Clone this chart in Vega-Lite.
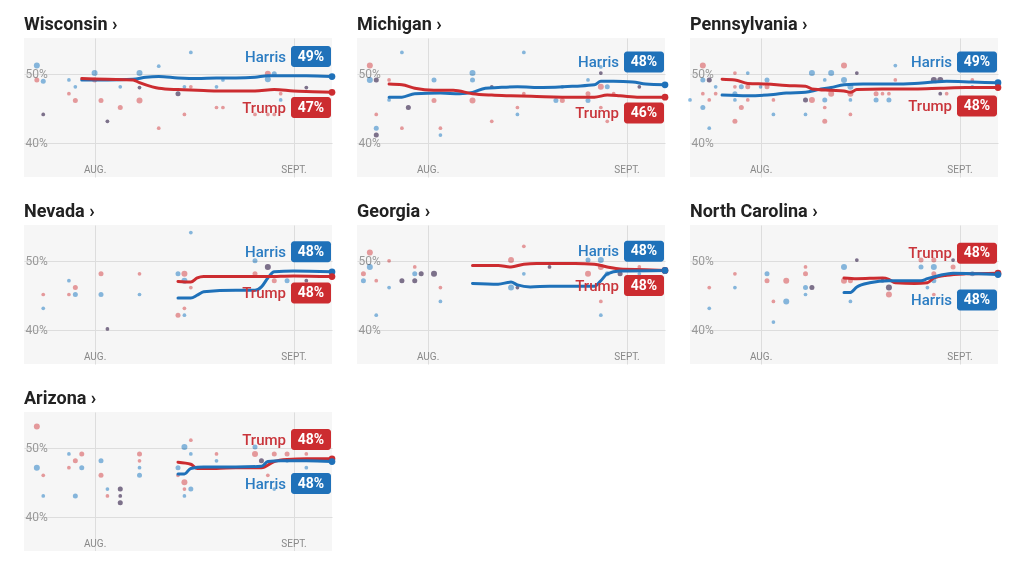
{
"$schema": "https://vega.github.io/schema/vega-lite/v6.json",
"background": "white",
"padding": {"left": 24, "top": 16, "right": 5, "bottom": 0},
"bounds": "flush",
"data": {"values": [
{"s":"Wisconsin","k":"d","c":"Harris","d":"2024-07-23","v":51.2,"n":3},
{"s":"Wisconsin","k":"d","c":"Harris","d":"2024-07-24","v":48.9,"n":2},
{"s":"Wisconsin","k":"d","c":"Harris","d":"2024-07-28","v":49.1,"n":1},
{"s":"Wisconsin","k":"d","c":"Harris","d":"2024-07-29","v":48.1,"n":1},
{"s":"Wisconsin","k":"d","c":"Harris","d":"2024-08-01","v":50.1,"n":3},
{"s":"Wisconsin","k":"d","c":"Harris","d":"2024-08-05","v":48.1,"n":1},
{"s":"Wisconsin","k":"d","c":"Harris","d":"2024-08-08","v":50.1,"n":3},
{"s":"Wisconsin","k":"d","c":"Harris","d":"2024-08-11","v":51.1,"n":1},
{"s":"Wisconsin","k":"d","c":"Harris","d":"2024-08-15","v":48.1,"n":1},
{"s":"Wisconsin","k":"d","c":"Harris","d":"2024-08-16","v":53.1,"n":1},
{"s":"Wisconsin","k":"d","c":"Harris","d":"2024-08-20","v":48.1,"n":1},
{"s":"Wisconsin","k":"d","c":"Harris","d":"2024-08-21","v":49.1,"n":1},
{"s":"Wisconsin","k":"d","c":"Harris","d":"2024-08-28","v":49.2,"n":3},
{"s":"Wisconsin","k":"d","c":"Harris","d":"2024-08-29","v":50.0,"n":2},
{"s":"Wisconsin","k":"d","c":"Harris","d":"2024-08-30","v":46.2,"n":1},
{"s":"Wisconsin","k":"d","c":"Harris","d":"2024-07-24","v":44.1,"n":1},
{"s":"Wisconsin","k":"d","c":"Harris","d":"2024-08-03","v":43.1,"n":1},
{"s":"Wisconsin","k":"d","c":"Harris","d":"2024-08-08","v":48.0,"n":1},
{"s":"Wisconsin","k":"d","c":"Harris","d":"2024-08-14","v":47.1,"n":2},
{"s":"Wisconsin","k":"d","c":"Harris","d":"2024-09-03","v":48.0,"n":1},
{"s":"Wisconsin","k":"d","c":"Trump","d":"2024-07-24","v":44.1,"n":1},
{"s":"Wisconsin","k":"d","c":"Trump","d":"2024-08-03","v":43.1,"n":1},
{"s":"Wisconsin","k":"d","c":"Trump","d":"2024-08-08","v":48.0,"n":1},
{"s":"Wisconsin","k":"d","c":"Trump","d":"2024-08-14","v":47.1,"n":2},
{"s":"Wisconsin","k":"d","c":"Trump","d":"2024-09-03","v":48.0,"n":1},
{"s":"Wisconsin","k":"d","c":"Trump","d":"2024-07-23","v":49.1,"n":2},
{"s":"Wisconsin","k":"d","c":"Trump","d":"2024-07-28","v":47.1,"n":1},
{"s":"Wisconsin","k":"d","c":"Trump","d":"2024-07-29","v":46.1,"n":2},
{"s":"Wisconsin","k":"d","c":"Trump","d":"2024-08-01","v":49.1,"n":2},
{"s":"Wisconsin","k":"d","c":"Trump","d":"2024-08-02","v":46.1,"n":2},
{"s":"Wisconsin","k":"d","c":"Trump","d":"2024-08-05","v":45.1,"n":2},
{"s":"Wisconsin","k":"d","c":"Trump","d":"2024-08-08","v":46.1,"n":3},
{"s":"Wisconsin","k":"d","c":"Trump","d":"2024-08-11","v":42.1,"n":1},
{"s":"Wisconsin","k":"d","c":"Trump","d":"2024-08-15","v":44.1,"n":1},
{"s":"Wisconsin","k":"d","c":"Trump","d":"2024-08-16","v":48.1,"n":1},
{"s":"Wisconsin","k":"d","c":"Trump","d":"2024-08-20","v":45.1,"n":1},
{"s":"Wisconsin","k":"d","c":"Trump","d":"2024-08-21","v":45.1,"n":1},
{"s":"Wisconsin","k":"d","c":"Trump","d":"2024-08-26","v":44.1,"n":1},
{"s":"Wisconsin","k":"d","c":"Trump","d":"2024-08-28","v":50.0,"n":3},
{"s":"Wisconsin","k":"d","c":"Trump","d":"2024-08-28","v":44.1,"n":1},
{"s":"Wisconsin","k":"d","c":"Trump","d":"2024-08-29","v":44.1,"n":1},
{"s":"Wisconsin","k":"d","c":"Trump","d":"2024-08-30","v":47.1,"n":1},
{"s":"Wisconsin","k":"l","c":"Harris","d":"2024-07-30","v":49.1},
{"s":"Wisconsin","k":"l","c":"Harris","d":"2024-08-03","v":49.1},
{"s":"Wisconsin","k":"l","c":"Harris","d":"2024-08-07","v":49.2},
{"s":"Wisconsin","k":"l","c":"Harris","d":"2024-08-09","v":49.5},
{"s":"Wisconsin","k":"l","c":"Harris","d":"2024-08-11","v":49.6},
{"s":"Wisconsin","k":"l","c":"Harris","d":"2024-08-14","v":49.4},
{"s":"Wisconsin","k":"l","c":"Harris","d":"2024-08-17","v":49.3},
{"s":"Wisconsin","k":"l","c":"Harris","d":"2024-08-20","v":49.4},
{"s":"Wisconsin","k":"l","c":"Harris","d":"2024-08-23","v":49.4},
{"s":"Wisconsin","k":"l","c":"Harris","d":"2024-08-26","v":49.5},
{"s":"Wisconsin","k":"l","c":"Harris","d":"2024-08-28","v":49.7},
{"s":"Wisconsin","k":"l","c":"Harris","d":"2024-08-31","v":49.7},
{"s":"Wisconsin","k":"l","c":"Harris","d":"2024-09-03","v":49.7},
{"s":"Wisconsin","k":"l","c":"Harris","d":"2024-09-07","v":49.6},
{"s":"Wisconsin","k":"l","c":"Trump","d":"2024-07-30","v":49.3},
{"s":"Wisconsin","k":"l","c":"Trump","d":"2024-08-03","v":49.2},
{"s":"Wisconsin","k":"l","c":"Trump","d":"2024-08-07","v":49.1},
{"s":"Wisconsin","k":"l","c":"Trump","d":"2024-08-08","v":48.7},
{"s":"Wisconsin","k":"l","c":"Trump","d":"2024-08-10","v":48.1},
{"s":"Wisconsin","k":"l","c":"Trump","d":"2024-08-11","v":47.9},
{"s":"Wisconsin","k":"l","c":"Trump","d":"2024-08-14","v":47.7},
{"s":"Wisconsin","k":"l","c":"Trump","d":"2024-08-17","v":47.6},
{"s":"Wisconsin","k":"l","c":"Trump","d":"2024-08-20","v":47.5},
{"s":"Wisconsin","k":"l","c":"Trump","d":"2024-08-23","v":47.5},
{"s":"Wisconsin","k":"l","c":"Trump","d":"2024-08-26","v":47.5},
{"s":"Wisconsin","k":"l","c":"Trump","d":"2024-08-29","v":47.7},
{"s":"Wisconsin","k":"l","c":"Trump","d":"2024-09-01","v":47.5},
{"s":"Wisconsin","k":"l","c":"Trump","d":"2024-09-04","v":47.4},
{"s":"Wisconsin","k":"l","c":"Trump","d":"2024-09-07","v":47.3},
{"s":"Wisconsin","k":"b","c":"Harris","p":"49%","d":"2024-09-07","v":52.5},
{"s":"Wisconsin","k":"b","c":"Trump","p":"47%","d":"2024-09-07","v":45.1},

{"s":"Michigan","k":"d","c":"Harris","d":"2024-07-23","v":49.1,"n":3},
{"s":"Michigan","k":"d","c":"Harris","d":"2024-07-26","v":46.2,"n":1},
{"s":"Michigan","k":"d","c":"Harris","d":"2024-07-24","v":42.1,"n":2},
{"s":"Michigan","k":"d","c":"Harris","d":"2024-07-28","v":53.1,"n":1},
{"s":"Michigan","k":"d","c":"Harris","d":"2024-08-02","v":49.1,"n":2},
{"s":"Michigan","k":"d","c":"Harris","d":"2024-08-03","v":41.1,"n":1},
{"s":"Michigan","k":"d","c":"Harris","d":"2024-08-08","v":50.1,"n":3},
{"s":"Michigan","k":"d","c":"Harris","d":"2024-08-08","v":49.1,"n":2},
{"s":"Michigan","k":"d","c":"Harris","d":"2024-08-15","v":44.1,"n":1},
{"s":"Michigan","k":"d","c":"Harris","d":"2024-08-16","v":53.1,"n":1},
{"s":"Michigan","k":"d","c":"Harris","d":"2024-08-21","v":46.1,"n":2},
{"s":"Michigan","k":"d","c":"Harris","d":"2024-08-22","v":48.1,"n":1},
{"s":"Michigan","k":"d","c":"Harris","d":"2024-08-26","v":49.1,"n":1},
{"s":"Michigan","k":"d","c":"Harris","d":"2024-08-26","v":46.1,"n":2},
{"s":"Michigan","k":"d","c":"Harris","d":"2024-08-28","v":51.0,"n":1},
{"s":"Michigan","k":"d","c":"Harris","d":"2024-08-29","v":48.1,"n":2},
{"s":"Michigan","k":"d","c":"Harris","d":"2024-07-24","v":49.1,"n":2},
{"s":"Michigan","k":"d","c":"Harris","d":"2024-07-29","v":45.1,"n":2},
{"s":"Michigan","k":"d","c":"Harris","d":"2024-08-11","v":48.1,"n":1},
{"s":"Michigan","k":"d","c":"Harris","d":"2024-08-28","v":50.1,"n":1},
{"s":"Michigan","k":"d","c":"Harris","d":"2024-09-03","v":48.1,"n":1},
{"s":"Michigan","k":"d","c":"Harris","d":"2024-07-24","v":41.1,"n":2},
{"s":"Michigan","k":"d","c":"Trump","d":"2024-07-24","v":49.1,"n":2},
{"s":"Michigan","k":"d","c":"Trump","d":"2024-07-29","v":45.1,"n":2},
{"s":"Michigan","k":"d","c":"Trump","d":"2024-08-11","v":48.1,"n":1},
{"s":"Michigan","k":"d","c":"Trump","d":"2024-08-28","v":50.1,"n":1},
{"s":"Michigan","k":"d","c":"Trump","d":"2024-09-03","v":48.1,"n":1},
{"s":"Michigan","k":"d","c":"Trump","d":"2024-07-24","v":41.1,"n":2},
{"s":"Michigan","k":"d","c":"Trump","d":"2024-07-23","v":51.2,"n":3},
{"s":"Michigan","k":"d","c":"Trump","d":"2024-07-26","v":49.1,"n":1},
{"s":"Michigan","k":"d","c":"Trump","d":"2024-07-24","v":44.1,"n":1},
{"s":"Michigan","k":"d","c":"Trump","d":"2024-07-28","v":42.1,"n":1},
{"s":"Michigan","k":"d","c":"Trump","d":"2024-08-02","v":46.1,"n":2},
{"s":"Michigan","k":"d","c":"Trump","d":"2024-08-03","v":42.1,"n":1},
{"s":"Michigan","k":"d","c":"Trump","d":"2024-08-08","v":46.1,"n":3},
{"s":"Michigan","k":"d","c":"Trump","d":"2024-08-11","v":43.1,"n":1},
{"s":"Michigan","k":"d","c":"Trump","d":"2024-08-15","v":45.1,"n":1},
{"s":"Michigan","k":"d","c":"Trump","d":"2024-08-16","v":47.1,"n":1},
{"s":"Michigan","k":"d","c":"Trump","d":"2024-08-22","v":46.1,"n":2},
{"s":"Michigan","k":"d","c":"Trump","d":"2024-08-26","v":47.1,"n":2},
{"s":"Michigan","k":"d","c":"Trump","d":"2024-08-28","v":48.1,"n":3},
{"s":"Michigan","k":"d","c":"Trump","d":"2024-08-28","v":45.1,"n":1},
{"s":"Michigan","k":"d","c":"Trump","d":"2024-08-29","v":43.1,"n":1},
{"s":"Michigan","k":"d","c":"Trump","d":"2024-08-30","v":47.1,"n":1},
{"s":"Michigan","k":"l","c":"Harris","d":"2024-07-26","v":46.6},
{"s":"Michigan","k":"l","c":"Harris","d":"2024-07-28","v":46.6},
{"s":"Michigan","k":"l","c":"Harris","d":"2024-07-30","v":47.1},
{"s":"Michigan","k":"l","c":"Harris","d":"2024-08-03","v":47.2},
{"s":"Michigan","k":"l","c":"Harris","d":"2024-08-06","v":47.1},
{"s":"Michigan","k":"l","c":"Harris","d":"2024-08-08","v":47.3},
{"s":"Michigan","k":"l","c":"Harris","d":"2024-08-10","v":47.9},
{"s":"Michigan","k":"l","c":"Harris","d":"2024-08-12","v":48.0},
{"s":"Michigan","k":"l","c":"Harris","d":"2024-08-15","v":48.1},
{"s":"Michigan","k":"l","c":"Harris","d":"2024-08-19","v":48.0},
{"s":"Michigan","k":"l","c":"Harris","d":"2024-08-24","v":48.2},
{"s":"Michigan","k":"l","c":"Harris","d":"2024-08-27","v":48.4},
{"s":"Michigan","k":"l","c":"Harris","d":"2024-08-28","v":48.9},
{"s":"Michigan","k":"l","c":"Harris","d":"2024-08-30","v":48.9},
{"s":"Michigan","k":"l","c":"Harris","d":"2024-09-02","v":48.8},
{"s":"Michigan","k":"l","c":"Harris","d":"2024-09-04","v":48.5},
{"s":"Michigan","k":"l","c":"Harris","d":"2024-09-07","v":48.4},
{"s":"Michigan","k":"l","c":"Trump","d":"2024-07-26","v":48.5},
{"s":"Michigan","k":"l","c":"Trump","d":"2024-07-28","v":48.4},
{"s":"Michigan","k":"l","c":"Trump","d":"2024-07-30","v":47.9},
{"s":"Michigan","k":"l","c":"Trump","d":"2024-08-02","v":47.6},
{"s":"Michigan","k":"l","c":"Trump","d":"2024-08-05","v":47.6},
{"s":"Michigan","k":"l","c":"Trump","d":"2024-08-08","v":47.1},
{"s":"Michigan","k":"l","c":"Trump","d":"2024-08-11","v":46.9},
{"s":"Michigan","k":"l","c":"Trump","d":"2024-08-14","v":46.8},
{"s":"Michigan","k":"l","c":"Trump","d":"2024-08-18","v":46.7},
{"s":"Michigan","k":"l","c":"Trump","d":"2024-08-24","v":46.6},
{"s":"Michigan","k":"l","c":"Trump","d":"2024-08-27","v":46.6},
{"s":"Michigan","k":"l","c":"Trump","d":"2024-08-29","v":46.9},
{"s":"Michigan","k":"l","c":"Trump","d":"2024-08-31","v":46.8},
{"s":"Michigan","k":"l","c":"Trump","d":"2024-09-03","v":46.6},
{"s":"Michigan","k":"l","c":"Trump","d":"2024-09-07","v":46.6},
{"s":"Michigan","k":"b","c":"Harris","p":"48%","d":"2024-09-07","v":51.7},
{"s":"Michigan","k":"b","c":"Trump","p":"46%","d":"2024-09-07","v":44.3},

{"s":"Pennsylvania","k":"d","c":"Harris","d":"2024-07-21","v":46.2,"n":1},
{"s":"Pennsylvania","k":"d","c":"Harris","d":"2024-07-23","v":49.1,"n":2},
{"s":"Pennsylvania","k":"d","c":"Harris","d":"2024-07-23","v":45.1,"n":2},
{"s":"Pennsylvania","k":"d","c":"Harris","d":"2024-07-24","v":42.1,"n":1},
{"s":"Pennsylvania","k":"d","c":"Harris","d":"2024-07-25","v":48.1,"n":1},
{"s":"Pennsylvania","k":"d","c":"Harris","d":"2024-07-28","v":47.1,"n":2},
{"s":"Pennsylvania","k":"d","c":"Harris","d":"2024-07-28","v":46.2,"n":1},
{"s":"Pennsylvania","k":"d","c":"Harris","d":"2024-07-29","v":48.1,"n":2},
{"s":"Pennsylvania","k":"d","c":"Harris","d":"2024-07-30","v":50.1,"n":1},
{"s":"Pennsylvania","k":"d","c":"Harris","d":"2024-08-01","v":48.1,"n":1},
{"s":"Pennsylvania","k":"d","c":"Harris","d":"2024-08-02","v":49.1,"n":2},
{"s":"Pennsylvania","k":"d","c":"Harris","d":"2024-08-03","v":44.1,"n":1},
{"s":"Pennsylvania","k":"d","c":"Harris","d":"2024-08-08","v":44.1,"n":1},
{"s":"Pennsylvania","k":"d","c":"Harris","d":"2024-08-09","v":50.1,"n":3},
{"s":"Pennsylvania","k":"d","c":"Harris","d":"2024-08-11","v":49.1,"n":1},
{"s":"Pennsylvania","k":"d","c":"Harris","d":"2024-08-11","v":46.2,"n":2},
{"s":"Pennsylvania","k":"d","c":"Harris","d":"2024-08-12","v":50.1,"n":3},
{"s":"Pennsylvania","k":"d","c":"Harris","d":"2024-08-14","v":49.1,"n":3},
{"s":"Pennsylvania","k":"d","c":"Harris","d":"2024-08-15","v":48.1,"n":3},
{"s":"Pennsylvania","k":"d","c":"Harris","d":"2024-08-15","v":46.2,"n":1},
{"s":"Pennsylvania","k":"d","c":"Harris","d":"2024-08-19","v":46.2,"n":2},
{"s":"Pennsylvania","k":"d","c":"Harris","d":"2024-08-21","v":46.2,"n":2},
{"s":"Pennsylvania","k":"d","c":"Harris","d":"2024-08-22","v":51.2,"n":1},
{"s":"Pennsylvania","k":"d","c":"Harris","d":"2024-09-03","v":48.1,"n":1},
{"s":"Pennsylvania","k":"d","c":"Harris","d":"2024-07-24","v":49.1,"n":2},
{"s":"Pennsylvania","k":"d","c":"Harris","d":"2024-08-08","v":46.2,"n":2},
{"s":"Pennsylvania","k":"d","c":"Harris","d":"2024-08-16","v":50.1,"n":1},
{"s":"Pennsylvania","k":"d","c":"Harris","d":"2024-08-28","v":49.1,"n":3},
{"s":"Pennsylvania","k":"d","c":"Harris","d":"2024-08-29","v":49.1,"n":3},
{"s":"Pennsylvania","k":"d","c":"Harris","d":"2024-08-29","v":47.1,"n":1},
{"s":"Pennsylvania","k":"d","c":"Trump","d":"2024-07-24","v":49.1,"n":2},
{"s":"Pennsylvania","k":"d","c":"Trump","d":"2024-08-08","v":46.2,"n":2},
{"s":"Pennsylvania","k":"d","c":"Trump","d":"2024-08-16","v":50.1,"n":1},
{"s":"Pennsylvania","k":"d","c":"Trump","d":"2024-08-28","v":49.1,"n":3},
{"s":"Pennsylvania","k":"d","c":"Trump","d":"2024-08-29","v":49.1,"n":3},
{"s":"Pennsylvania","k":"d","c":"Trump","d":"2024-08-29","v":47.1,"n":1},
{"s":"Pennsylvania","k":"d","c":"Trump","d":"2024-07-23","v":51.2,"n":3},
{"s":"Pennsylvania","k":"d","c":"Trump","d":"2024-07-23","v":47.1,"n":1},
{"s":"Pennsylvania","k":"d","c":"Trump","d":"2024-07-24","v":46.2,"n":1},
{"s":"Pennsylvania","k":"d","c":"Trump","d":"2024-07-25","v":47.1,"n":1},
{"s":"Pennsylvania","k":"d","c":"Trump","d":"2024-07-28","v":50.1,"n":1},
{"s":"Pennsylvania","k":"d","c":"Trump","d":"2024-07-28","v":48.1,"n":1},
{"s":"Pennsylvania","k":"d","c":"Trump","d":"2024-07-28","v":43.1,"n":2},
{"s":"Pennsylvania","k":"d","c":"Trump","d":"2024-07-29","v":45.1,"n":2},
{"s":"Pennsylvania","k":"d","c":"Trump","d":"2024-07-30","v":48.1,"n":2},
{"s":"Pennsylvania","k":"d","c":"Trump","d":"2024-07-30","v":46.2,"n":1},
{"s":"Pennsylvania","k":"d","c":"Trump","d":"2024-08-02","v":48.1,"n":2},
{"s":"Pennsylvania","k":"d","c":"Trump","d":"2024-08-03","v":46.2,"n":1},
{"s":"Pennsylvania","k":"d","c":"Trump","d":"2024-08-09","v":46.2,"n":3},
{"s":"Pennsylvania","k":"d","c":"Trump","d":"2024-08-11","v":45.1,"n":1},
{"s":"Pennsylvania","k":"d","c":"Trump","d":"2024-08-11","v":43.1,"n":2},
{"s":"Pennsylvania","k":"d","c":"Trump","d":"2024-08-12","v":47.1,"n":3},
{"s":"Pennsylvania","k":"d","c":"Trump","d":"2024-08-14","v":51.2,"n":3},
{"s":"Pennsylvania","k":"d","c":"Trump","d":"2024-08-15","v":47.1,"n":3},
{"s":"Pennsylvania","k":"d","c":"Trump","d":"2024-08-15","v":44.1,"n":1},
{"s":"Pennsylvania","k":"d","c":"Trump","d":"2024-08-19","v":47.1,"n":2},
{"s":"Pennsylvania","k":"d","c":"Trump","d":"2024-08-20","v":47.1,"n":1},
{"s":"Pennsylvania","k":"d","c":"Trump","d":"2024-08-21","v":47.1,"n":1},
{"s":"Pennsylvania","k":"d","c":"Trump","d":"2024-08-22","v":49.1,"n":1},
{"s":"Pennsylvania","k":"d","c":"Trump","d":"2024-08-30","v":47.1,"n":1},
{"s":"Pennsylvania","k":"d","c":"Trump","d":"2024-09-03","v":49.1,"n":1},
{"s":"Pennsylvania","k":"l","c":"Harris","d":"2024-07-26","v":46.9},
{"s":"Pennsylvania","k":"l","c":"Harris","d":"2024-07-30","v":46.8},
{"s":"Pennsylvania","k":"l","c":"Harris","d":"2024-08-03","v":47.0},
{"s":"Pennsylvania","k":"l","c":"Harris","d":"2024-08-05","v":47.2},
{"s":"Pennsylvania","k":"l","c":"Harris","d":"2024-08-08","v":47.3},
{"s":"Pennsylvania","k":"l","c":"Harris","d":"2024-08-10","v":47.7},
{"s":"Pennsylvania","k":"l","c":"Harris","d":"2024-08-12","v":48.0},
{"s":"Pennsylvania","k":"l","c":"Harris","d":"2024-08-14","v":48.4},
{"s":"Pennsylvania","k":"l","c":"Harris","d":"2024-08-17","v":48.5},
{"s":"Pennsylvania","k":"l","c":"Harris","d":"2024-08-22","v":48.5},
{"s":"Pennsylvania","k":"l","c":"Harris","d":"2024-08-25","v":48.6},
{"s":"Pennsylvania","k":"l","c":"Harris","d":"2024-08-28","v":48.8},
{"s":"Pennsylvania","k":"l","c":"Harris","d":"2024-08-30","v":48.9},
{"s":"Pennsylvania","k":"l","c":"Harris","d":"2024-09-03","v":48.8},
{"s":"Pennsylvania","k":"l","c":"Harris","d":"2024-09-07","v":48.7},
{"s":"Pennsylvania","k":"l","c":"Trump","d":"2024-07-26","v":49.2},
{"s":"Pennsylvania","k":"l","c":"Trump","d":"2024-07-28","v":49.1},
{"s":"Pennsylvania","k":"l","c":"Trump","d":"2024-07-30","v":48.6},
{"s":"Pennsylvania","k":"l","c":"Trump","d":"2024-08-02","v":48.5},
{"s":"Pennsylvania","k":"l","c":"Trump","d":"2024-08-05","v":48.3},
{"s":"Pennsylvania","k":"l","c":"Trump","d":"2024-08-08","v":48.2},
{"s":"Pennsylvania","k":"l","c":"Trump","d":"2024-08-09","v":47.8},
{"s":"Pennsylvania","k":"l","c":"Trump","d":"2024-08-12","v":47.6},
{"s":"Pennsylvania","k":"l","c":"Trump","d":"2024-08-14","v":47.5},
{"s":"Pennsylvania","k":"l","c":"Trump","d":"2024-08-15","v":47.3},
{"s":"Pennsylvania","k":"l","c":"Trump","d":"2024-08-16","v":47.7},
{"s":"Pennsylvania","k":"l","c":"Trump","d":"2024-08-20","v":47.8},
{"s":"Pennsylvania","k":"l","c":"Trump","d":"2024-08-25","v":47.8},
{"s":"Pennsylvania","k":"l","c":"Trump","d":"2024-08-29","v":47.9},
{"s":"Pennsylvania","k":"l","c":"Trump","d":"2024-09-02","v":48.0},
{"s":"Pennsylvania","k":"l","c":"Trump","d":"2024-09-07","v":48.0},
{"s":"Pennsylvania","k":"b","c":"Harris","p":"49%","d":"2024-09-07","v":51.7},
{"s":"Pennsylvania","k":"b","c":"Trump","p":"48%","d":"2024-09-07","v":45.3},

{"s":"Nevada","k":"d","c":"Harris","d":"2024-07-24","v":43.1,"n":1},
{"s":"Nevada","k":"d","c":"Harris","d":"2024-07-28","v":47.1,"n":1},
{"s":"Nevada","k":"d","c":"Harris","d":"2024-07-29","v":45.1,"n":2},
{"s":"Nevada","k":"d","c":"Harris","d":"2024-08-02","v":45.1,"n":2},
{"s":"Nevada","k":"d","c":"Harris","d":"2024-08-08","v":45.1,"n":1},
{"s":"Nevada","k":"d","c":"Harris","d":"2024-08-14","v":48.1,"n":2},
{"s":"Nevada","k":"d","c":"Harris","d":"2024-08-15","v":47.1,"n":3},
{"s":"Nevada","k":"d","c":"Harris","d":"2024-08-15","v":42.1,"n":1},
{"s":"Nevada","k":"d","c":"Harris","d":"2024-08-16","v":54.1,"n":1},
{"s":"Nevada","k":"d","c":"Harris","d":"2024-08-26","v":50.0,"n":2},
{"s":"Nevada","k":"d","c":"Harris","d":"2024-08-31","v":47.1,"n":2},
{"s":"Nevada","k":"d","c":"Harris","d":"2024-08-03","v":40.1,"n":1},
{"s":"Nevada","k":"d","c":"Harris","d":"2024-08-28","v":49.1,"n":3},
{"s":"Nevada","k":"d","c":"Harris","d":"2024-09-03","v":47.1,"n":1},
{"s":"Nevada","k":"d","c":"Trump","d":"2024-08-03","v":40.1,"n":1},
{"s":"Nevada","k":"d","c":"Trump","d":"2024-08-28","v":49.1,"n":3},
{"s":"Nevada","k":"d","c":"Trump","d":"2024-09-03","v":47.1,"n":1},
{"s":"Nevada","k":"d","c":"Trump","d":"2024-07-24","v":45.1,"n":1},
{"s":"Nevada","k":"d","c":"Trump","d":"2024-07-28","v":45.1,"n":1},
{"s":"Nevada","k":"d","c":"Trump","d":"2024-07-29","v":46.1,"n":2},
{"s":"Nevada","k":"d","c":"Trump","d":"2024-08-02","v":48.1,"n":2},
{"s":"Nevada","k":"d","c":"Trump","d":"2024-08-08","v":48.1,"n":1},
{"s":"Nevada","k":"d","c":"Trump","d":"2024-08-14","v":42.1,"n":2},
{"s":"Nevada","k":"d","c":"Trump","d":"2024-08-15","v":48.1,"n":3},
{"s":"Nevada","k":"d","c":"Trump","d":"2024-08-15","v":43.1,"n":1},
{"s":"Nevada","k":"d","c":"Trump","d":"2024-08-16","v":46.1,"n":1},
{"s":"Nevada","k":"d","c":"Trump","d":"2024-08-26","v":48.1,"n":2},
{"s":"Nevada","k":"d","c":"Trump","d":"2024-08-29","v":47.1,"n":2},
{"s":"Nevada","k":"l","c":"Harris","d":"2024-08-14","v":44.6},
{"s":"Nevada","k":"l","c":"Harris","d":"2024-08-16","v":44.6},
{"s":"Nevada","k":"l","c":"Harris","d":"2024-08-17","v":45.0},
{"s":"Nevada","k":"l","c":"Harris","d":"2024-08-18","v":45.5},
{"s":"Nevada","k":"l","c":"Harris","d":"2024-08-23","v":45.7},
{"s":"Nevada","k":"l","c":"Harris","d":"2024-08-26","v":45.7},
{"s":"Nevada","k":"l","c":"Harris","d":"2024-08-27","v":46.2},
{"s":"Nevada","k":"l","c":"Harris","d":"2024-08-28","v":47.5},
{"s":"Nevada","k":"l","c":"Harris","d":"2024-08-29","v":48.4},
{"s":"Nevada","k":"l","c":"Harris","d":"2024-09-01","v":48.5},
{"s":"Nevada","k":"l","c":"Harris","d":"2024-09-07","v":48.4},
{"s":"Nevada","k":"l","c":"Trump","d":"2024-08-14","v":47.0},
{"s":"Nevada","k":"l","c":"Trump","d":"2024-08-16","v":46.9},
{"s":"Nevada","k":"l","c":"Trump","d":"2024-08-17","v":47.5},
{"s":"Nevada","k":"l","c":"Trump","d":"2024-08-18","v":47.7},
{"s":"Nevada","k":"l","c":"Trump","d":"2024-08-23","v":47.7},
{"s":"Nevada","k":"l","c":"Trump","d":"2024-08-28","v":47.7},
{"s":"Nevada","k":"l","c":"Trump","d":"2024-09-01","v":47.8},
{"s":"Nevada","k":"l","c":"Trump","d":"2024-09-07","v":47.7},
{"s":"Nevada","k":"b","c":"Harris","p":"48%","d":"2024-09-07","v":51.3},
{"s":"Nevada","k":"b","c":"Trump","p":"48%","d":"2024-09-07","v":45.3},

{"s":"Georgia","k":"d","c":"Harris","d":"2024-07-22","v":47.1,"n":2},
{"s":"Georgia","k":"d","c":"Harris","d":"2024-07-23","v":49.1,"n":3},
{"s":"Georgia","k":"d","c":"Harris","d":"2024-07-24","v":42.1,"n":1},
{"s":"Georgia","k":"d","c":"Harris","d":"2024-07-26","v":46.1,"n":1},
{"s":"Georgia","k":"d","c":"Harris","d":"2024-07-30","v":48.1,"n":2},
{"s":"Georgia","k":"d","c":"Harris","d":"2024-08-03","v":44.1,"n":1},
{"s":"Georgia","k":"d","c":"Harris","d":"2024-08-14","v":46.1,"n":3},
{"s":"Georgia","k":"d","c":"Harris","d":"2024-08-16","v":48.1,"n":1},
{"s":"Georgia","k":"d","c":"Harris","d":"2024-08-26","v":50.1,"n":2},
{"s":"Georgia","k":"d","c":"Harris","d":"2024-08-28","v":50.1,"n":3},
{"s":"Georgia","k":"d","c":"Harris","d":"2024-08-28","v":42.1,"n":1},
{"s":"Georgia","k":"d","c":"Harris","d":"2024-08-29","v":48.1,"n":2},
{"s":"Georgia","k":"d","c":"Harris","d":"2024-09-03","v":48.1,"n":1},
{"s":"Georgia","k":"d","c":"Harris","d":"2024-07-28","v":47.1,"n":2},
{"s":"Georgia","k":"d","c":"Harris","d":"2024-07-30","v":47.1,"n":2},
{"s":"Georgia","k":"d","c":"Harris","d":"2024-07-31","v":48.1,"n":2},
{"s":"Georgia","k":"d","c":"Harris","d":"2024-08-02","v":48.1,"n":3},
{"s":"Georgia","k":"d","c":"Harris","d":"2024-08-15","v":46.1,"n":1},
{"s":"Georgia","k":"d","c":"Harris","d":"2024-08-20","v":49.1,"n":1},
{"s":"Georgia","k":"d","c":"Harris","d":"2024-08-31","v":48.1,"n":2},
{"s":"Georgia","k":"d","c":"Trump","d":"2024-07-28","v":47.1,"n":2},
{"s":"Georgia","k":"d","c":"Trump","d":"2024-07-30","v":47.1,"n":2},
{"s":"Georgia","k":"d","c":"Trump","d":"2024-07-31","v":48.1,"n":2},
{"s":"Georgia","k":"d","c":"Trump","d":"2024-08-02","v":48.1,"n":3},
{"s":"Georgia","k":"d","c":"Trump","d":"2024-08-15","v":46.1,"n":1},
{"s":"Georgia","k":"d","c":"Trump","d":"2024-08-20","v":49.1,"n":1},
{"s":"Georgia","k":"d","c":"Trump","d":"2024-08-31","v":48.1,"n":2},
{"s":"Georgia","k":"d","c":"Trump","d":"2024-07-22","v":48.1,"n":2},
{"s":"Georgia","k":"d","c":"Trump","d":"2024-07-23","v":51.2,"n":3},
{"s":"Georgia","k":"d","c":"Trump","d":"2024-07-24","v":47.1,"n":1},
{"s":"Georgia","k":"d","c":"Trump","d":"2024-07-26","v":50.0,"n":1},
{"s":"Georgia","k":"d","c":"Trump","d":"2024-07-30","v":49.1,"n":1},
{"s":"Georgia","k":"d","c":"Trump","d":"2024-08-03","v":46.1,"n":1},
{"s":"Georgia","k":"d","c":"Trump","d":"2024-08-14","v":50.1,"n":3},
{"s":"Georgia","k":"d","c":"Trump","d":"2024-08-16","v":52.1,"n":1},
{"s":"Georgia","k":"d","c":"Trump","d":"2024-08-26","v":48.1,"n":3},
{"s":"Georgia","k":"d","c":"Trump","d":"2024-08-28","v":49.1,"n":3},
{"s":"Georgia","k":"d","c":"Trump","d":"2024-08-28","v":44.1,"n":1},
{"s":"Georgia","k":"d","c":"Trump","d":"2024-09-03","v":49.1,"n":1},
{"s":"Georgia","k":"l","c":"Trump","d":"2024-08-08","v":49.3},
{"s":"Georgia","k":"l","c":"Trump","d":"2024-08-12","v":49.3},
{"s":"Georgia","k":"l","c":"Trump","d":"2024-08-14","v":49.1},
{"s":"Georgia","k":"l","c":"Trump","d":"2024-08-16","v":49.5},
{"s":"Georgia","k":"l","c":"Trump","d":"2024-08-18","v":49.6},
{"s":"Georgia","k":"l","c":"Trump","d":"2024-08-24","v":49.6},
{"s":"Georgia","k":"l","c":"Trump","d":"2024-08-27","v":49.5},
{"s":"Georgia","k":"l","c":"Trump","d":"2024-08-29","v":49.1},
{"s":"Georgia","k":"l","c":"Trump","d":"2024-08-31","v":48.8},
{"s":"Georgia","k":"l","c":"Trump","d":"2024-09-04","v":48.7},
{"s":"Georgia","k":"l","c":"Trump","d":"2024-09-07","v":48.6},
{"s":"Georgia","k":"l","c":"Harris","d":"2024-08-08","v":46.7},
{"s":"Georgia","k":"l","c":"Harris","d":"2024-08-12","v":46.6},
{"s":"Georgia","k":"l","c":"Harris","d":"2024-08-14","v":46.9},
{"s":"Georgia","k":"l","c":"Harris","d":"2024-08-15","v":46.5},
{"s":"Georgia","k":"l","c":"Harris","d":"2024-08-17","v":46.2},
{"s":"Georgia","k":"l","c":"Harris","d":"2024-08-20","v":46.3},
{"s":"Georgia","k":"l","c":"Harris","d":"2024-08-24","v":46.3},
{"s":"Georgia","k":"l","c":"Harris","d":"2024-08-27","v":46.3},
{"s":"Georgia","k":"l","c":"Harris","d":"2024-08-28","v":47.1},
{"s":"Georgia","k":"l","c":"Harris","d":"2024-08-29","v":48.1},
{"s":"Georgia","k":"l","c":"Harris","d":"2024-08-31","v":48.5},
{"s":"Georgia","k":"l","c":"Harris","d":"2024-09-07","v":48.6},
{"s":"Georgia","k":"b","c":"Harris","p":"48%","d":"2024-09-07","v":51.4},
{"s":"Georgia","k":"b","c":"Trump","p":"48%","d":"2024-09-07","v":46.4},

{"s":"North Carolina","k":"d","c":"Harris","d":"2024-07-24","v":43.1,"n":1},
{"s":"North Carolina","k":"d","c":"Harris","d":"2024-07-28","v":46.1,"n":1},
{"s":"North Carolina","k":"d","c":"Harris","d":"2024-08-02","v":48.1,"n":2},
{"s":"North Carolina","k":"d","c":"Harris","d":"2024-08-03","v":41.1,"n":1},
{"s":"North Carolina","k":"d","c":"Harris","d":"2024-08-05","v":44.1,"n":3},
{"s":"North Carolina","k":"d","c":"Harris","d":"2024-08-08","v":46.1,"n":2},
{"s":"North Carolina","k":"d","c":"Harris","d":"2024-08-08","v":45.1,"n":1},
{"s":"North Carolina","k":"d","c":"Harris","d":"2024-08-14","v":49.1,"n":3},
{"s":"North Carolina","k":"d","c":"Harris","d":"2024-08-15","v":44.1,"n":1},
{"s":"North Carolina","k":"d","c":"Harris","d":"2024-08-26","v":49.1,"n":2},
{"s":"North Carolina","k":"d","c":"Harris","d":"2024-08-27","v":46.1,"n":1},
{"s":"North Carolina","k":"d","c":"Harris","d":"2024-08-28","v":49.1,"n":3},
{"s":"North Carolina","k":"d","c":"Harris","d":"2024-08-28","v":47.1,"n":2},
{"s":"North Carolina","k":"d","c":"Harris","d":"2024-08-31","v":48.1,"n":1},
{"s":"North Carolina","k":"d","c":"Harris","d":"2024-09-03","v":48.1,"n":2},
{"s":"North Carolina","k":"d","c":"Harris","d":"2024-08-09","v":46.1,"n":2},
{"s":"North Carolina","k":"d","c":"Harris","d":"2024-08-16","v":50.1,"n":1},
{"s":"North Carolina","k":"d","c":"Harris","d":"2024-08-20","v":47.1,"n":1},
{"s":"North Carolina","k":"d","c":"Harris","d":"2024-08-21","v":46.1,"n":3},
{"s":"North Carolina","k":"d","c":"Harris","d":"2024-08-31","v":50.1,"n":1},
{"s":"North Carolina","k":"d","c":"Trump","d":"2024-08-09","v":46.1,"n":2},
{"s":"North Carolina","k":"d","c":"Trump","d":"2024-08-16","v":50.1,"n":1},
{"s":"North Carolina","k":"d","c":"Trump","d":"2024-08-20","v":47.1,"n":1},
{"s":"North Carolina","k":"d","c":"Trump","d":"2024-08-21","v":46.1,"n":3},
{"s":"North Carolina","k":"d","c":"Trump","d":"2024-08-31","v":50.1,"n":1},
{"s":"North Carolina","k":"d","c":"Trump","d":"2024-07-24","v":46.1,"n":1},
{"s":"North Carolina","k":"d","c":"Trump","d":"2024-07-28","v":48.1,"n":1},
{"s":"North Carolina","k":"d","c":"Trump","d":"2024-08-02","v":47.1,"n":2},
{"s":"North Carolina","k":"d","c":"Trump","d":"2024-08-03","v":44.1,"n":1},
{"s":"North Carolina","k":"d","c":"Trump","d":"2024-08-05","v":47.1,"n":3},
{"s":"North Carolina","k":"d","c":"Trump","d":"2024-08-08","v":49.1,"n":1},
{"s":"North Carolina","k":"d","c":"Trump","d":"2024-08-08","v":48.1,"n":2},
{"s":"North Carolina","k":"d","c":"Trump","d":"2024-08-14","v":47.1,"n":3},
{"s":"North Carolina","k":"d","c":"Trump","d":"2024-08-15","v":47.1,"n":2},
{"s":"North Carolina","k":"d","c":"Trump","d":"2024-08-21","v":45.1,"n":3},
{"s":"North Carolina","k":"d","c":"Trump","d":"2024-08-26","v":50.1,"n":2},
{"s":"North Carolina","k":"d","c":"Trump","d":"2024-08-28","v":50.1,"n":2},
{"s":"North Carolina","k":"d","c":"Trump","d":"2024-08-28","v":48.1,"n":2},
{"s":"North Carolina","k":"d","c":"Trump","d":"2024-08-28","v":45.1,"n":1},
{"s":"North Carolina","k":"d","c":"Trump","d":"2024-08-31","v":49.1,"n":2},
{"s":"North Carolina","k":"l","c":"Trump","d":"2024-08-14","v":47.5},
{"s":"North Carolina","k":"l","c":"Trump","d":"2024-08-16","v":47.4},
{"s":"North Carolina","k":"l","c":"Trump","d":"2024-08-20","v":47.5},
{"s":"North Carolina","k":"l","c":"Trump","d":"2024-08-21","v":47.3},
{"s":"North Carolina","k":"l","c":"Trump","d":"2024-08-22","v":46.8},
{"s":"North Carolina","k":"l","c":"Trump","d":"2024-08-25","v":46.7},
{"s":"North Carolina","k":"l","c":"Trump","d":"2024-08-27","v":46.8},
{"s":"North Carolina","k":"l","c":"Trump","d":"2024-08-28","v":47.5},
{"s":"North Carolina","k":"l","c":"Trump","d":"2024-08-30","v":47.9},
{"s":"North Carolina","k":"l","c":"Trump","d":"2024-09-02","v":48.1},
{"s":"North Carolina","k":"l","c":"Trump","d":"2024-09-07","v":48.2},
{"s":"North Carolina","k":"l","c":"Harris","d":"2024-08-14","v":45.4},
{"s":"North Carolina","k":"l","c":"Harris","d":"2024-08-15","v":45.4},
{"s":"North Carolina","k":"l","c":"Harris","d":"2024-08-16","v":46.2},
{"s":"North Carolina","k":"l","c":"Harris","d":"2024-08-18","v":46.8},
{"s":"North Carolina","k":"l","c":"Harris","d":"2024-08-21","v":47.1},
{"s":"North Carolina","k":"l","c":"Harris","d":"2024-08-23","v":47.1},
{"s":"North Carolina","k":"l","c":"Harris","d":"2024-08-26","v":47.1},
{"s":"North Carolina","k":"l","c":"Harris","d":"2024-08-27","v":47.4},
{"s":"North Carolina","k":"l","c":"Harris","d":"2024-08-29","v":47.9},
{"s":"North Carolina","k":"l","c":"Harris","d":"2024-08-31","v":48.2},
{"s":"North Carolina","k":"l","c":"Harris","d":"2024-09-04","v":48.1},
{"s":"North Carolina","k":"l","c":"Harris","d":"2024-09-07","v":48.0},
{"s":"North Carolina","k":"b","c":"Trump","p":"48%","d":"2024-09-07","v":51.1},
{"s":"North Carolina","k":"b","c":"Harris","p":"48%","d":"2024-09-07","v":44.3},

{"s":"Arizona","k":"d","c":"Harris","d":"2024-07-23","v":47.1,"n":3},
{"s":"Arizona","k":"d","c":"Harris","d":"2024-07-24","v":43.0,"n":1},
{"s":"Arizona","k":"d","c":"Harris","d":"2024-07-28","v":49.1,"n":1},
{"s":"Arizona","k":"d","c":"Harris","d":"2024-07-29","v":43.0,"n":2},
{"s":"Arizona","k":"d","c":"Harris","d":"2024-07-30","v":47.1,"n":2},
{"s":"Arizona","k":"d","c":"Harris","d":"2024-08-02","v":48.1,"n":2},
{"s":"Arizona","k":"d","c":"Harris","d":"2024-08-03","v":44.0,"n":1},
{"s":"Arizona","k":"d","c":"Harris","d":"2024-08-08","v":47.1,"n":1},
{"s":"Arizona","k":"d","c":"Harris","d":"2024-08-08","v":46.0,"n":2},
{"s":"Arizona","k":"d","c":"Harris","d":"2024-08-14","v":47.1,"n":2},
{"s":"Arizona","k":"d","c":"Harris","d":"2024-08-15","v":50.1,"n":3},
{"s":"Arizona","k":"d","c":"Harris","d":"2024-08-16","v":49.1,"n":1},
{"s":"Arizona","k":"d","c":"Harris","d":"2024-08-16","v":44.0,"n":2},
{"s":"Arizona","k":"d","c":"Harris","d":"2024-08-15","v":43.0,"n":1},
{"s":"Arizona","k":"d","c":"Harris","d":"2024-08-20","v":48.1,"n":1},
{"s":"Arizona","k":"d","c":"Harris","d":"2024-08-26","v":50.1,"n":2},
{"s":"Arizona","k":"d","c":"Harris","d":"2024-08-29","v":44.0,"n":1},
{"s":"Arizona","k":"d","c":"Harris","d":"2024-08-31","v":48.1,"n":1},
{"s":"Arizona","k":"d","c":"Harris","d":"2024-09-03","v":47.1,"n":1},
{"s":"Arizona","k":"d","c":"Harris","d":"2024-08-05","v":44.0,"n":2},
{"s":"Arizona","k":"d","c":"Harris","d":"2024-08-05","v":43.0,"n":1},
{"s":"Arizona","k":"d","c":"Harris","d":"2024-08-05","v":42.0,"n":2},
{"s":"Arizona","k":"d","c":"Harris","d":"2024-08-27","v":48.1,"n":2},
{"s":"Arizona","k":"d","c":"Trump","d":"2024-08-05","v":44.0,"n":2},
{"s":"Arizona","k":"d","c":"Trump","d":"2024-08-05","v":43.0,"n":1},
{"s":"Arizona","k":"d","c":"Trump","d":"2024-08-05","v":42.0,"n":2},
{"s":"Arizona","k":"d","c":"Trump","d":"2024-08-27","v":48.1,"n":2},
{"s":"Arizona","k":"d","c":"Trump","d":"2024-07-23","v":53.1,"n":3},
{"s":"Arizona","k":"d","c":"Trump","d":"2024-07-24","v":46.0,"n":1},
{"s":"Arizona","k":"d","c":"Trump","d":"2024-07-28","v":47.1,"n":1},
{"s":"Arizona","k":"d","c":"Trump","d":"2024-07-29","v":48.1,"n":2},
{"s":"Arizona","k":"d","c":"Trump","d":"2024-07-30","v":49.1,"n":2},
{"s":"Arizona","k":"d","c":"Trump","d":"2024-08-02","v":46.0,"n":2},
{"s":"Arizona","k":"d","c":"Trump","d":"2024-08-03","v":43.0,"n":1},
{"s":"Arizona","k":"d","c":"Trump","d":"2024-08-08","v":49.1,"n":2},
{"s":"Arizona","k":"d","c":"Trump","d":"2024-08-08","v":48.1,"n":1},
{"s":"Arizona","k":"d","c":"Trump","d":"2024-08-14","v":46.0,"n":1},
{"s":"Arizona","k":"d","c":"Trump","d":"2024-08-15","v":45.0,"n":3},
{"s":"Arizona","k":"d","c":"Trump","d":"2024-08-15","v":44.0,"n":1},
{"s":"Arizona","k":"d","c":"Trump","d":"2024-08-16","v":51.1,"n":1},
{"s":"Arizona","k":"d","c":"Trump","d":"2024-08-20","v":49.1,"n":1},
{"s":"Arizona","k":"d","c":"Trump","d":"2024-08-26","v":49.1,"n":3},
{"s":"Arizona","k":"d","c":"Trump","d":"2024-08-28","v":46.0,"n":1},
{"s":"Arizona","k":"d","c":"Trump","d":"2024-08-29","v":49.1,"n":2},
{"s":"Arizona","k":"d","c":"Trump","d":"2024-08-31","v":49.1,"n":2},
{"s":"Arizona","k":"d","c":"Trump","d":"2024-09-03","v":49.1,"n":1},
{"s":"Arizona","k":"l","c":"Trump","d":"2024-08-14","v":47.9},
{"s":"Arizona","k":"l","c":"Trump","d":"2024-08-16","v":47.6},
{"s":"Arizona","k":"l","c":"Trump","d":"2024-08-17","v":47.0},
{"s":"Arizona","k":"l","c":"Trump","d":"2024-08-20","v":47.0},
{"s":"Arizona","k":"l","c":"Trump","d":"2024-08-23","v":47.1},
{"s":"Arizona","k":"l","c":"Trump","d":"2024-08-27","v":47.1},
{"s":"Arizona","k":"l","c":"Trump","d":"2024-08-29","v":48.0},
{"s":"Arizona","k":"l","c":"Trump","d":"2024-08-31","v":48.3},
{"s":"Arizona","k":"l","c":"Trump","d":"2024-09-03","v":48.4},
{"s":"Arizona","k":"l","c":"Trump","d":"2024-09-07","v":48.4},
{"s":"Arizona","k":"l","c":"Harris","d":"2024-08-14","v":46.2},
{"s":"Arizona","k":"l","c":"Harris","d":"2024-08-15","v":46.2},
{"s":"Arizona","k":"l","c":"Harris","d":"2024-08-16","v":47.0},
{"s":"Arizona","k":"l","c":"Harris","d":"2024-08-18","v":47.2},
{"s":"Arizona","k":"l","c":"Harris","d":"2024-08-23","v":47.2},
{"s":"Arizona","k":"l","c":"Harris","d":"2024-08-27","v":47.3},
{"s":"Arizona","k":"l","c":"Harris","d":"2024-08-28","v":48.0},
{"s":"Arizona","k":"l","c":"Harris","d":"2024-08-30","v":48.1},
{"s":"Arizona","k":"l","c":"Harris","d":"2024-09-03","v":48.1},
{"s":"Arizona","k":"l","c":"Harris","d":"2024-09-07","v":48.0},
{"s":"Arizona","k":"b","c":"Trump","p":"48%","d":"2024-09-07","v":51.2},
{"s":"Arizona","k":"b","c":"Harris","p":"48%","d":"2024-09-07","v":44.8}
]},
"columns": 3,
"facet": {
  "field": "s", "type": "nominal",
  "sort": ["Wisconsin","Michigan","Pennsylvania","Nevada","Georgia","North Carolina","Arizona"],
  "header": {"title": null, "labelAnchor": "start", "labelAngle": 0, "labelFont": "Roboto", "labelFontSize": 18, "labelFontWeight": "bold", "labelColor": "#222222", "labelPadding": -14, "labelExpr": "datum.value + ' ›'"}
},
"spacing": {"column": 25, "row": 48},
"resolve": {"axis": {"x": "independent", "y": "independent"}},
"spec": {
  "width": 308,
  "height": 139,
  "encoding": {
    "x": {"field": "d", "type": "temporal",
      "scale": {"type": "utc", "domain": [{"year": 2024, "month": 7, "date": 21, "utc": true}, {"year": 2024, "month": 9, "date": 7, "utc": true}]},
      "axis": {"values": [{"year": 2024, "month": 8, "date": 1, "utc": true}, {"year": 2024, "month": 9, "date": 1, "utc": true}],
        "labelExpr": "utcmonth(datum.value) == 7 ? 'AUG.' : 'SEPT.'", "grid": true, "gridColor": "#dddddd", "ticks": false, "domain": false,
        "labelPadding": -13, "labelFont": "Roboto", "labelFontSize": 10, "labelColor": "#888888", "title": null, "zindex": 0}},
    "y": {"field": "v", "type": "quantitative",
      "scale": {"domain": [35, 55.2], "nice": false, "zero": false},
      "axis": {"values": [40, 50], "labelExpr": "datum.value + '%'", "grid": true, "gridColor": "#dddddd", "ticks": false, "domain": false,
        "labelAlign": "left", "labelPadding": -1, "labelFont": "Roboto", "labelFontSize": 12, "labelColor": "#999999", "title": null, "zindex": 0}}
  },
  "layer": [
    {
      "transform": [{"filter": "datum.k == 'd'"}],
      "mark": {"type": "circle", "opacity": 0.9, "blend": "multiply"},
      "encoding": {
        "color": {"condition": {"test": "datum.c == 'Harris'", "value": "#7db5e0"}, "value": "#eb9597"},
        "size": {"field": "n", "type": "ordinal", "scale": {"domain": [1, 2, 3], "range": [14, 36, 75]}, "legend": null}
      }
    },
    {
      "transform": [{"filter": "datum.k == 'l'"}],
      "mark": {"type": "line", "strokeWidth": 3, "interpolate": "monotone", "strokeCap": "round"},
      "encoding": {
        "detail": {"field": "c"},
        "color": {"condition": {"test": "datum.c == 'Harris'", "value": "#1f71b9"}, "value": "#cc2c30"}
      }
    },
    {
      "transform": [{"filter": "datum.k == 'l'"}, {"filter": {"field": "d", "equal": {"year": 2024, "month": 9, "date": 7, "utc": true}}}],
      "mark": {"type": "circle", "size": 45, "opacity": 1},
      "encoding": {
        "color": {"condition": {"test": "datum.c == 'Harris'", "value": "#1f71b9"}, "value": "#cc2c30"}
      }
    },
    {
      "transform": [{"filter": "datum.k == 'b'"}],
      "mark": {"type": "rect", "width": 40, "height": 21, "cornerRadius": 3, "xOffset": -21},
      "encoding": {
        "color": {"condition": {"test": "datum.c == 'Harris'", "value": "#1f71b9"}, "value": "#cc2c30"}
      }
    },
    {
      "transform": [{"filter": "datum.k == 'b'"}],
      "mark": {"type": "text", "align": "center", "baseline": "middle", "xOffset": -21, "font": "Roboto", "fontSize": 14, "fontWeight": "bold", "color": "white"},
      "encoding": {
        "text": {"field": "p"}
      }
    },
    {
      "transform": [{"filter": "datum.k == 'b'"}],
      "mark": {"type": "text", "align": "right", "baseline": "middle", "xOffset": -46, "font": "Roboto", "fontSize": 15, "fontWeight": 500},
      "encoding": {
        "text": {"field": "c"},
        "color": {"condition": {"test": "datum.c == 'Harris'", "value": "#2b7cc2"}, "value": "#c9353b"}
      }
    }
  ]
},
"config": {"view": {"fill": "#f6f6f6", "stroke": null}}
}
